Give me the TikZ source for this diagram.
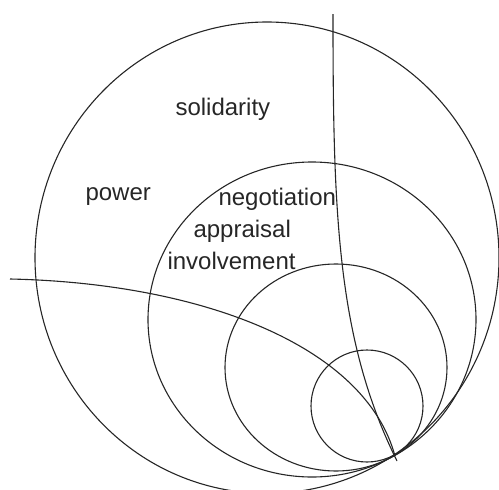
\documentclass[tikz,border=0pt]{standalone}
\usepackage{fontspec}
\setmainfont{Liberation Sans}
\begin{document}
\begin{tikzpicture}[x=1pt,y=-1pt,line width=1.1pt,
    ring/.style={draw=black!85},
    word/.style={anchor=base west,inner sep=0pt,text=black!85,
      font=\fontsize{24}{28}\selectfont}]
  \useasboundingbox (0,0) rectangle (499,490);
  \coordinate (t) at (395,456);
  \coordinate (c0) at (267,257.7);
  \coordinate (c1) at (312,319.5);
  \coordinate (c2) at (336,367.5);
  \coordinate (c3) at (367,406);
  \draw[ring] (c0) ellipse [x radius=232pt, y radius=235.7pt];
  \draw[ring] (c1) ellipse [x radius=164pt, y radius=157.5pt];
  \draw[ring] (c2) ellipse [x radius=111pt, y radius=103.5pt];
  \draw[ring] (c3) ellipse [x radius=56pt, y radius=56pt];
  \coordinate (vtop) at (333,14);
  \coordinate (vend) at (397,461);
  \coordinate (hleft) at (10,279);
  \draw[ring] (vtop) .. controls (333,214) and (337,340) .. (vend);
  \draw[ring] (hleft) .. controls (200,283) and (365,345) .. (t);
  \node[word] (solidarity) at (175,115) {solidarity};
  \node[word] (power) at (85,200) {power};
  \node[word] (negotiation) at (218,205) {negotiation};
  \node[word] (appraisal) at (193,237) {appraisal};
  \node[word] (involvement) at (167,269) {involvement};
\end{tikzpicture}
\end{document}
